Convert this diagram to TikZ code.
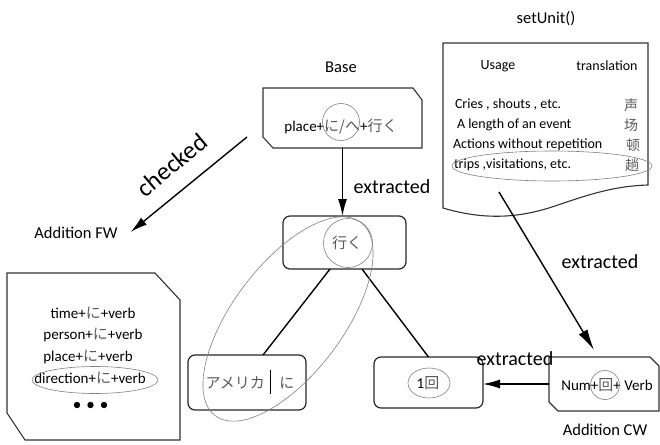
\documentclass[tikz,border=0pt]{standalone}
\usepackage{fontspec}
\setmainfont{Carlito}
\newfontfamily\jpfont{Noto Sans CJK JP}
\newfontfamily\zhfont{Noto Sans CJK SC}
\usetikzlibrary{arrows.meta,calc}
\newcommand{\jp}[1]{{\jpfont\color{black!65}#1}}
\newcommand{\zh}[1]{{\zhfont\color{black!65}#1}}
\newcommand{\fs}[1]{\fontsize{#1}{#1}\selectfont}
\begin{document}
\begin{tikzpicture}[x=1pt,y=-1pt,
  every node/.style={inner sep=0pt,outer sep=0pt},
  boxline/.style={draw=black!80,line width=1.1pt},
  anchorbox/.style={draw=none,rectangle},
  rbox/.style={draw=black!85,line width=1.2pt,rounded corners=7pt,rectangle},
  conn/.style={line width=1.4pt},
  arr/.style={conn,-{Latex[length=17pt,width=9pt]}},
  longarr/.style={conn,-{Latex[length=21pt,width=10pt]}},
  hl/.style={draw=black!50,line width=0.6pt},
  big/.style={font=\fs{20}},
  mid/.style={font=\fs{16.5}},
  doctxt/.style={font=\fs{14}},
  boxtxt/.style={font=\fs{15}}
]
\useasboundingbox (0,0) rectangle (660,444);

% ---------- Base ----------
\node[mid] (baselabel) at (341,67) {Base};
\node[anchorbox,minimum width=159pt,minimum height=60pt] (basebox) at (342.5,118) {};
\draw[boxline] (basebox.north west) -- ($(basebox.north east)+(-9,0)$) -- ($(basebox.north east)+(0,12)$)
  -- (basebox.south east) -- ($(basebox.south west)+(10,0)$) -- ($(basebox.south west)+(0,-11)$) -- cycle;
\node[boxtxt] (basetxt) at (341,127) {place+\jp{に/へ}+\jp{行く}};
\draw[hl] (341,122) circle[radius=18.5pt];

% ---------- iku ----------
\node[rbox,minimum width=123pt,minimum height=53pt] (iku) at (344.5,242.5) {};
\node[boxtxt] (ikutxt) at (347,243) {\jp{行く}};
\draw[hl] (348,243) circle[radius=24.5pt];
\draw[arr] (basebox.south) -- (basebox.south |- iku.north);
\node[big] (ext1) at (392,187) {extracted};

% ---------- children ----------
\node[rbox,minimum width=118pt,minimum height=55pt] (amer) at (247,382.5) {};
\node[font=\fs{15}] (amertxt) at (250,382) {\jp{アメリカ}\hspace{5pt}\rule[-6pt]{1.3pt}{24pt}\hspace{8pt}\jp{に}};
\node[rbox,minimum width=109pt,minimum height=51pt] (ikkai) at (428.5,382.5) {};
\node[boxtxt] (ikkaitxt) at (428,383) {1\jp{回}};
\draw[hl] (429,383) ellipse[x radius=21pt,y radius=15pt];
\draw[conn] ($(iku.south)+(-14.5,0)$) -- ($(amer.north)+(16,0)$);
\draw[conn] ($(iku.south)+(17.5,0)$) -- (ikkai.north);
\draw[hl,rotate around={53:(288,319)}] (288,319) ellipse[x radius=121pt,y radius=55pt];

% ---------- setUnit document ----------
\node[mid] (setunit) at (546,19) {setUnit()};
\node[anchorbox,minimum width=205pt,minimum height=165pt] (doc) at (545.5,125.5) {};
\draw[boxline] (doc.north west) -- (doc.north east) -- ($(doc.north east)+(0,142)$)
  .. controls (615,186) and (590,194) .. (555,206)
  .. controls (525,216) and (490,222) .. ($(doc.north west)+(0,165)$) -- cycle;
\node[doctxt] (usage) at (498,66) {Usage};
\node[doctxt] (transl) at (607,66) {translation};
\node[doctxt,anchor=west] (r1) at (455,105) {Cries , shouts , etc.};
\node[doctxt,anchor=west] (r2) at (457,125) {A length of an event};
\node[doctxt,anchor=west] (r3) at (453,145) {Actions without repetition};
\node[doctxt,anchor=west] (r4) at (454,165) {trips ,visitations, etc.};
\node[doctxt] (z1) at (631,105) {\zh{声}};
\node[doctxt] (z2) at (631,125) {\zh{场}};
\node[doctxt] (z3) at (633,145) {\zh{顿}};
\node[doctxt] (z4) at (632,165) {\zh{趟}};
\draw[hl] (552,166) ellipse[x radius=100pt,y radius=15pt];

% ---------- Addition CW ----------
\node[anchorbox,minimum width=110pt,minimum height=54pt] (cwbox) at (604,384) {};
\draw[boxline] (cwbox.north west) -- ($(cwbox.north east)+(-9,0)$) -- ($(cwbox.north east)+(0,9)$)
  -- (cwbox.south east) -- ($(cwbox.south west)+(9,0)$) -- ($(cwbox.south west)+(0,-9)$) -- cycle;
\node[boxtxt] (cwtxt) at (607,385) {Num+\jp{回}+ Verb};
\draw[hl] (605,385) circle[radius=14.5pt];
\node[mid] (cwlabel) at (605,430) {Addition CW};
\coordinate (docout) at (499,192);
\draw[longarr] (docout) -- ($(cwbox.north)+(-10,-7)$);
\node[big] (ext2) at (600,262) {extracted};
\draw[arr] (cwbox.west) -- (cwbox.west -| ikkai.east);
\node[big] (ext3) at (515,359) {extracted};

% ---------- Addition FW ----------
\node[mid] (fwlabel) at (76,233) {Addition FW};
\coordinate (chk) at (247,137);
\draw[arr] (chk) -- ($(fwlabel.east)+(13,-1)$);
\node[font=\fs{25},rotate=40] (checked) at (172,165) {checked};
\node[anchorbox,minimum width=173pt,minimum height=167pt] (fwbox) at (93.5,356.5) {};
\draw[boxline] (fwbox.north west) -- ($(fwbox.north east)+(-25,0)$) -- ($(fwbox.north east)+(0,27)$)
  -- (fwbox.south east) -- ($(fwbox.south west)+(18,0)$) -- ($(fwbox.south west)+(0,-27)$) -- cycle;
\node[boxtxt] (l1) at (93,313) {time+\jp{に}+verb};
\node[boxtxt] (l2) at (93,335) {person+\jp{に}+verb};
\node[boxtxt] (l3) at (88,357) {place+\jp{に}+verb};
\node[boxtxt] (l4) at (90,378) {direction+\jp{に}+verb};
\draw[hl] (95,380) ellipse[x radius=63pt,y radius=13.5pt];
\fill (77,405) circle[radius=3.2pt] (90.5,405) circle[radius=3.2pt] (104,405) circle[radius=3.2pt];
\end{tikzpicture}
\end{document}
